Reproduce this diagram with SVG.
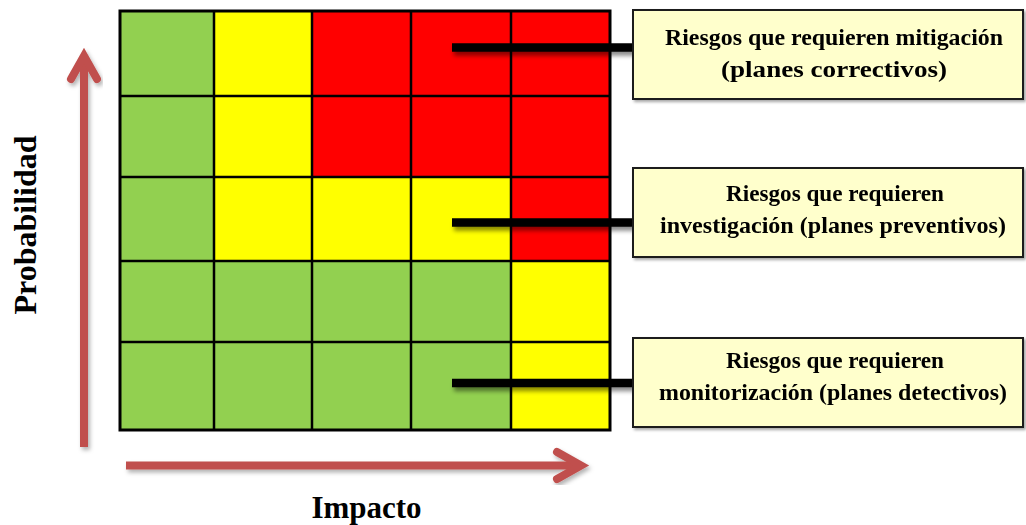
<svg xmlns="http://www.w3.org/2000/svg" width="1026" height="525" viewBox="0 0 1026 525">
  <defs>
    <filter id="softShadow" x="-10%" y="-50%" width="130%" height="250%">
      <feDropShadow dx="2" dy="4" stdDeviation="2" flood-color="#000" flood-opacity="0.45"/>
    </filter>
    <filter id="arrowShadow" x="-20%" y="-20%" width="140%" height="140%">
      <feDropShadow dx="2" dy="3" stdDeviation="2" flood-color="#000" flood-opacity="0.3"/>
    </filter>
    <filter id="boxShadow" x="-5%" y="-10%" width="110%" height="130%">
      <feDropShadow dx="2" dy="2" stdDeviation="1.5" flood-color="#000" flood-opacity="0.35"/>
    </filter>
  </defs>
  <style>
    .g { fill: #92D050; }
    .y { fill: #FFFF00; }
    .r { fill: #FF0000; }
    .grid { stroke: #000; stroke-width: 2.5; fill: none; }
    .frame { stroke: #000; stroke-width: 3; fill: none; }
    .box { fill: #FFFFCC; stroke: #1a1a1a; stroke-width: 2; }
    .lbl { font-family: "Liberation Serif", "Times New Roman", serif; font-weight: bold; font-size: 23.5px; fill: #000; text-anchor: middle; }
    .axis { font-family: "Liberation Serif", "Times New Roman", serif; font-weight: bold; fill: #000; text-anchor: middle; }
    .arrow { stroke: #C0504D; stroke-width: 8; fill: none; }
    .link { stroke: #000; stroke-width: 8.5; fill: none; }
  </style>

  <!-- risk matrix: 5 impact columns x 5 probability rows -->
  <g id="matrix">
    <!-- row 1 -->
    <rect class="g" x="120" y="11" width="94" height="85"/>
    <rect class="y" x="214" y="11" width="98" height="85"/>
    <rect class="r" x="312" y="11" width="99" height="85"/>
    <rect class="r" x="411" y="11" width="100" height="85"/>
    <rect class="r" x="511" y="11" width="99" height="85"/>
    <!-- row 2 -->
    <rect class="g" x="120" y="96" width="94" height="81"/>
    <rect class="y" x="214" y="96" width="98" height="81"/>
    <rect class="r" x="312" y="96" width="99" height="81"/>
    <rect class="r" x="411" y="96" width="100" height="81"/>
    <rect class="r" x="511" y="96" width="99" height="81"/>
    <!-- row 3 -->
    <rect class="g" x="120" y="177" width="94" height="84"/>
    <rect class="y" x="214" y="177" width="98" height="84"/>
    <rect class="y" x="312" y="177" width="99" height="84"/>
    <rect class="y" x="411" y="177" width="100" height="84"/>
    <rect class="r" x="511" y="177" width="99" height="84"/>
    <!-- row 4 -->
    <rect class="g" x="120" y="261" width="94" height="81"/>
    <rect class="g" x="214" y="261" width="98" height="81"/>
    <rect class="g" x="312" y="261" width="99" height="81"/>
    <rect class="g" x="411" y="261" width="100" height="81"/>
    <rect class="y" x="511" y="261" width="99" height="81"/>
    <!-- row 5 -->
    <rect class="g" x="120" y="342" width="94" height="88"/>
    <rect class="g" x="214" y="342" width="98" height="88"/>
    <rect class="g" x="312" y="342" width="99" height="88"/>
    <rect class="g" x="411" y="342" width="100" height="88"/>
    <rect class="y" x="511" y="342" width="99" height="88"/>
    <!-- cell borders -->
    <path class="grid" d="M214,11V430 M312,11V430 M411,11V430 M511,11V430 M120,96H610 M120,177H610 M120,261H610 M120,342H610"/>
    <rect class="frame" x="120" y="11" width="490" height="419"/>
  </g>

  <!-- axes -->
  <g id="axis-probabilidad">
    <g filter="url(#arrowShadow)">
      <path class="arrow" d="M84,447V58"/>
      <path class="arrow" d="M71,79L84,56L97,79" stroke-linecap="round" stroke-linejoin="miter"/>
    </g>
    <text class="axis" font-size="32" transform="translate(36,225) rotate(-90)">Probabilidad</text>
  </g>
  <g id="axis-impacto">
    <g filter="url(#arrowShadow)">
      <path class="arrow" d="M126,465.5H580"/>
      <path class="arrow" d="M557,452L581,465.5L557,479" stroke-linecap="round" stroke-linejoin="miter"/>
    </g>
    <text class="axis" font-size="31" x="366.5" y="518">Impacto</text>
  </g>

  <!-- leader lines from matrix zones to labels -->
  <g id="connectors" filter="url(#softShadow)">
    <path class="link" d="M452,47.5H634"/>
    <path class="link" d="M452,222.5H634"/>
    <path class="link" d="M452,383H634"/>
  </g>

  <!-- labels -->
  <g id="label-mitigacion" filter="url(#boxShadow)">
    <rect class="box" x="633" y="10" width="390" height="89"/>
    <text class="lbl" x="834" y="45" textLength="338" lengthAdjust="spacingAndGlyphs">Riesgos que requieren mitigación</text>
    <text class="lbl" x="834" y="77" textLength="226" lengthAdjust="spacingAndGlyphs">(planes correctivos)</text>
  </g>
  <g id="label-investigacion" filter="url(#boxShadow)">
    <rect class="box" x="633" y="168" width="390" height="89"/>
    <text class="lbl" x="835" y="201" textLength="218" lengthAdjust="spacingAndGlyphs">Riesgos que requieren</text>
    <text class="lbl" x="833" y="233" textLength="346" lengthAdjust="spacingAndGlyphs">investigación (planes preventivos)</text>
  </g>
  <g id="label-monitorizacion" filter="url(#boxShadow)">
    <rect class="box" x="633" y="338" width="390" height="89"/>
    <text class="lbl" x="835" y="368" textLength="218" lengthAdjust="spacingAndGlyphs">Riesgos que requieren</text>
    <text class="lbl" x="833" y="400" textLength="348" lengthAdjust="spacingAndGlyphs">monitorización (planes detectivos)</text>
  </g>
</svg>
